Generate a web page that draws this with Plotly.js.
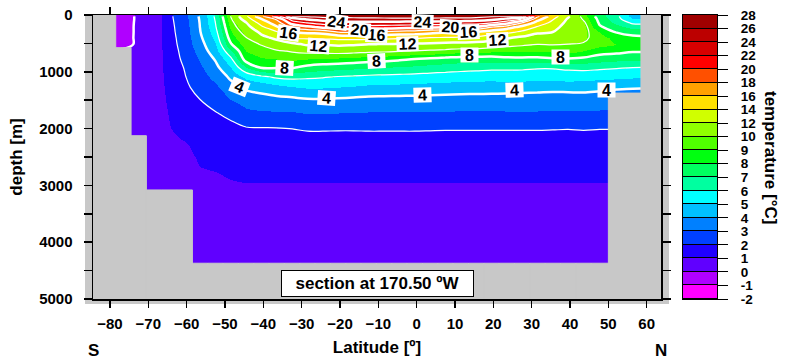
<!DOCTYPE html>
<html><head><meta charset="utf-8">
<script src="https://cdn.plot.ly/plotly-3.0.1.min.js"></script>
<style>html,body{margin:0;padding:0;background:#fff;} #chart{width:788px;height:362px;}</style>
</head><body><div id="chart"></div>
<script>
const N = null;
// cell edges: latitude (deg N) and depth (m)
const latEdges = [-85,-78.5,-74.5,-70.5,-66.5,-62.5,-58.5,-54.5,-50.5,-46.5,-42.5,-38.5,-34.5,-30.5,-26.5,-22.5,-18.5,-14.5,-10.5,-6.5,-2.5,1.5,5.5,9.5,13.5,17.5,21.5,25.5,29.5,33.5,37.5,41.5,45.5,50,54.25,58.5,65];
const depthEdges = [0,40,100,175,250,350,450,575,700,850,1000,1175,1375,1600,1850,2125,2500,3080,3700,4370,5000];

// temperature (°C) per latitude column, top to bottom; null = land
const c00 = [N,N,N,N,N,N,N,N,N,N,N,N,N,N,N,N,N,N,N,N];
const c01 = [-0.6,-0.6,-0.6,-0.6,-0.6,-0.6,-0.6,N,N,N,N,N,N,N,N,N,N,N,N,N];
const c02 = [0.25,0.25,0.28,0.3,0.3,0.32,0.32,0.33,0.33,0.33,0.33,0.33,0.32,0.32,0.3,N,N,N,N,N];
const c03 = [0.3,0.3,0.32,0.35,0.38,0.4,0.42,0.44,0.45,0.46,0.46,0.45,0.44,0.42,0.4,0.35,0.3,N,N,N];
const c04 = [1.8,1.78,1.75,1.72,1.7,1.65,1.6,1.55,1.5,1.45,1.38,1.3,1.2,1.08,0.97,0.8,0.6,N,N,N];
const c05 = [2.7,2.65,2.6,2.55,2.5,2.45,2.4,2.3,2.2,2.05,1.95,1.8,1.6,1.45,1.3,0.9,0.75,N,N,N];
const c06 = [4.15,4.1,4.05,4.02,3.95,3.8,3.6,3.35,3.1,2.85,2.6,2.35,2.0,1.7,1.45,1.2,0.95,0.7,0.55,N];
const c07 = [6.2,6.1,6.0,5.85,5.6,5.3,4.95,4.6,4.1,3.7,3.3,2.8,2.4,1.95,1.6,1.3,0.98,0.75,0.6,N];
const c08 = [10.05,9.8,9.5,9.2,8.9,8.5,7.9,6.8,5.75,4.95,4.2,3.6,3.0,2.25,1.75,1.4,1.05,0.78,0.62,N];
const c09 = [13.7,13.0,11.9,11.3,10.6,9.95,9.5,9.0,8.5,7.0,5.2,4.2,3.4,2.8,1.95,1.55,1.08,0.8,0.63,N];
const c10 = [17.6,16.0,14.8,13.6,12.4,11.5,10.1,9.5,8.9,8.1,5.8,4.3,3.7,2.85,1.98,1.6,1.08,0.8,0.63,N];
const c11 = [21.0,18.4,17.0,15.8,13.8,12.4,11.2,9.8,9.0,8.1,6.2,4.6,3.75,2.9,2.0,1.62,1.08,0.8,0.63,N];
const c12 = [26.1,23.0,20.8,18.5,16.0,14.0,11.6,10.1,9.2,8.1,6.3,4.9,3.8,2.9,2.02,1.65,1.08,0.8,0.63,N];
const c13 = [26.3,24.3,22.07,19.58,16.4,14.36,12.32,10.35,9.0,7.68,6.2,5.08,3.94,3.05,2.07,1.68,1.07,0.8,0.63,N];
const c14 = [26.8,24.92,22.85,20.42,16.67,14.38,12.13,10.44,8.87,7.46,6.1,5.05,3.94,3.05,2.07,1.68,1.07,0.8,0.63,N];
const c15 = [26.9,25.18,23.42,21.07,18.0,14.67,12.43,10.48,8.83,7.35,5.96,4.97,3.9,3.0,2.06,1.68,1.07,0.8,0.63,N];
const c16 = [27.0,25.24,23.58,21.25,18.21,14.74,12.27,10.39,8.71,7.22,5.88,4.88,3.83,2.98,2.06,1.68,1.07,0.8,0.63,N];
const c17 = [27.2,25.26,23.58,21.21,18.0,14.71,12.06,10.25,8.5,7.06,5.79,4.75,3.74,2.94,2.07,1.68,1.07,0.8,0.63,N];
const c18 = [27.4,25.28,23.51,21.03,17.67,14.59,11.96,10.18,8.39,6.98,5.74,4.71,3.73,2.93,2.07,1.68,1.07,0.8,0.63,N];
const c19 = [27.5,25.27,23.45,20.79,17.33,14.35,11.89,10.04,8.2,6.88,5.69,4.68,3.71,2.93,2.07,1.68,1.07,0.8,0.63,N];
const c20 = [27.5,25.25,23.36,20.64,17.11,14.24,11.81,9.9,8.0,6.78,5.64,4.64,3.7,2.93,2.07,1.68,1.07,0.8,0.63,N];
const c21 = [27.5,25.25,23.33,20.31,16.67,14.0,11.65,9.73,7.82,6.63,5.57,4.58,3.68,2.91,2.06,1.68,1.07,0.8,0.63,N];
const c22 = [27.4,25.23,23.25,20.11,16.23,13.88,11.5,9.54,7.66,6.53,5.51,4.53,3.65,2.9,2.05,1.68,1.07,0.8,0.63,N];
const c23 = [27.3,25.2,23.1,19.9,16.0,13.76,11.38,9.27,7.53,6.41,5.45,4.48,3.63,2.89,2.05,1.68,1.07,0.8,0.63,N];
const c24 = [27.0,25.07,22.9,19.67,15.88,13.56,11.29,9.22,7.51,6.35,5.4,4.46,3.62,2.88,2.05,1.68,1.07,0.8,0.63,N];
const c25 = [26.3,24.7,22.1,18.14,15.0,12.9,10.96,9.11,7.5,6.25,5.35,4.42,3.62,2.88,2.05,1.68,1.07,0.8,0.63,N];
const c26 = [26.3,23.6,20.7,16.9,14.5,12.2,10.6,9.0,7.7,6.2,5.5,4.4,3.62,2.9,2.05,1.68,1.07,0.8,0.63,N];
const c27 = [26.1,22.0,18.0,15.4,13.6,11.6,10.3,9.0,7.75,6.2,5.45,4.35,3.6,2.9,2.05,1.68,1.07,0.8,0.63,N];
const c28 = [18.5,16.8,15.2,13.8,12.3,11.2,10.05,9.0,7.7,6.1,5.4,4.3,3.6,2.9,2.05,1.68,1.07,0.8,0.63,N];
const c29 = [15.0,14.2,13.5,12.8,12.0,11.1,10.1,9.1,7.9,6.1,5.4,4.25,3.58,2.88,2.04,1.68,1.07,0.8,0.63,N];
const c30 = [12.3,11.8,11.4,11.0,10.7,10.4,10.0,9.3,7.9,6.2,5.5,4.3,3.55,2.87,2.03,1.68,1.07,0.8,0.63,N];
const c31 = [9.4,9.8,10.3,10.6,10.5,10.3,9.9,8.9,7.8,6.3,5.4,4.3,3.6,2.9,2.05,1.68,1.07,0.8,0.63,N];
const c32 = [7.4,7.6,7.8,8.15,9.0,9.4,9.3,8.4,7.5,6.2,5.3,4.2,3.55,2.85,2.03,1.68,1.07,0.8,0.63,N];
const c33 = [6.3,6.4,6.8,7.4,7.9,8.7,9.0,8.3,7.3,6.1,5.2,4.1,N,N,N,N,N,N,N,N];
const c34 = [4.5,5.0,5.8,6.6,7.5,8.3,8.6,8.1,7.2,6.0,5.1,4.05,N,N,N,N,N,N,N,N];
const c35 = [N,N,N,N,N,N,N,N,N,N,N,N,N,N,N,N,N,N,N,N];

// contour labels as placed in the reference (level, latitude, depth, tilt)
const labelLevel = [4,4,4,4,4, 8,8,8,8, 12,12,12, 16,16,16, 20,20, 24,24];
const labelLat   = [-46.1,-23.5,1.4,25.4,49.6, -34.4,-10.4,13.9,37.4, -25.7,-2.5,21.2, -33.5,-10.4,13.4, -14.8,8.7, -20.9,1.6];
const labelDepth = [1262,1466,1408,1320,1320, 938,810,709,734, 546,505,440, 311,347,299, 269,211, 118,123];
const labelTilt  = [22,4,-2,-2,0, 3,-3,0,0, 5,-2,-3, 8,3,-3, 6,4, 8,2];

// colour levels and band colours
const levels = [-2,-1,0,1,2,3,4,5,6,7,8,9,10,12,14,16,18,20,22,24,26,28];
const bandColors = ['#ff00ff','#b000ff','#6000ff','#2000ff','#0040ff','#0080ff','#00c0ff','#00ffff',
  '#00ffa0','#00ff60','#00ff10','#50ff00','#90ff00','#d0ff00','#ffe000','#ffa000','#ff5000','#ff0000',
  '#d80000','#bc0000','#a00000'];
const landColor = '#c8c8c8';
const FONT = 'Liberation Sans, Arial, sans-serif';

const cols = [c00,c01,c02,c03,c04,c05,c06,c07,c08,c09,c10,c11,c12,c13,c14,c15,c16,c17,c18,c19,
              c20,c21,c22,c23,c24,c25,c26,c27,c28,c29,c30,c31,c32,c33,c34,c35];
const nLat = cols.length, nDep = depthEdges.length - 1;
const mids = a => a.slice(0,-1).map((v,i)=>(v+a[i+1])/2);
const latCenters = mids(latEdges), depthCenters = mids(depthEdges);

// smooth field: land cells take nearest ocean value in the same row (else the cell above)
const filled = cols.map(c => c.slice());
for (let j = 0; j < nDep; j++) for (let i = 0; i < nLat; i++) {
  if (cols[i][j] !== null) continue;
  let best = null, bd = 1e9;
  for (let k = 0; k < nLat; k++) if (cols[k][j] !== null && Math.abs(k-i) < bd) { bd = Math.abs(k-i); best = cols[k][j]; }
  filled[i][j] = best;
}
for (let j = 1; j < nDep; j++) for (let i = 0; i < nLat; i++) if (filled[i][j] === null) filled[i][j] = filled[i][j-1];

function bandIndex(t) {
  if (t <= levels[0]) return 0.001;
  for (let k = 0; k < levels.length-1; k++) if (t < levels[k+1]) return k + (t-levels[k])/(levels[k+1]-levels[k]);
  return levels.length - 1.001;
}
const nb = bandColors.length;
const cscale = [];
bandColors.forEach((c,i)=>{ cscale.push([i/nb, c]); cscale.push([(i+1)/nb, c]); });

const zT = [], zIdx = [];
for (let j = 0; j < nDep; j++) {
  zT.push(cols.map((c,i)=>filled[i][j]));
  zIdx.push(cols.map((c,i)=>bandIndex(filled[i][j])));
}

// land polygons from the null mask
const lx = [], ly = [];
for (let i = 0; i < nLat; i++) {
  let j = 0;
  while (j < nDep) {
    if (cols[i][j] === null) {
      let j2 = j; while (j2 < nDep && cols[i][j2] === null) j2++;
      const x0 = latEdges[i], x1 = latEdges[i+1], y0 = depthEdges[j], y1 = depthEdges[j2];
      lx.push(x0,x1,x1,x0,x0,null); ly.push(y0,y0,y1,y1,y0,null);
      j = j2;
    } else j++;
  }
}

const plotW = 624, mainFrac = 568/624;
const traces = [
  {type:'heatmap', x: latEdges, y: depthEdges, z: zIdx, zmin:0, zmax:nb, colorscale: cscale,
   zsmooth:'best', showscale:false, hoverinfo:'skip'},
  {type:'contour', x: latCenters, y: depthCenters, z: zT, autocontour:false,
   contours:{start:2, end:26, size:4, coloring:'none'}, line:{color:'white', width:1.2},
   showscale:false, hoverinfo:'skip'},
  {type:'contour', x: latCenters, y: depthCenters, z: zT, autocontour:false,
   contours:{start:0, end:24, size:4, coloring:'none'},
   line:{color:'white', width:2.5}, showscale:false, hoverinfo:'skip'},
  {type:'scatter', mode:'lines', x: lx, y: ly, fill:'toself', fillcolor: landColor,
   line:{color: landColor, width:1}, hoverinfo:'skip', showlegend:false},
  {type:'heatmap', xaxis:'x2', yaxis:'y2', x:[0], y: bandColors.map((c,i)=>i),
   z: bandColors.map((c,i)=>[i+0.5]), zmin:0, zmax:nb, colorscale: cscale, ygap:1,
   showscale:false, hoverinfo:'skip'}
];

const contourLabels = labelLevel.map((lv,i)=>({
  text: String(lv), xref:'x', yref:'y', x: labelLat[i], y: labelDepth[i], showarrow:false,
  xanchor:'center', yanchor:'middle', textangle: labelTilt[i], bgcolor:'white', borderpad:1,
  width: String(lv).length > 1 ? 19 : 15, height: 12,
  font:{size:16, weight:'bold', color:'black'}
}));

const layout = {
  width:788, height:362,
  margin:{l:93, r:71, t:15, b:63, pad:0},
  paper_bgcolor:'white', plot_bgcolor: landColor, showlegend:false,
  font:{family:FONT, size:15, color:'black'},
  xaxis:{domain:[0, mainFrac], range:[-84.43, 63.73], tickvals:[-80,-70,-60,-50,-40,-30,-20,-10,0,10,20,30,40,50,60],
    ticks:'outside', ticklen:7, tickwidth:1.5, tickcolor:'black', showline:true, linecolor:'black', linewidth:1.5,
    mirror:'ticks', showgrid:false, zeroline:false, tickfont:{size:15, weight:'bold'}, ticklabelstandoff:3,
    title:{text:'Latitude [º]', font:{size:17, weight:'bold'}, standoff:10}},
  yaxis:{domain:[0,1], range:[5000,0], tickvals:[0,500,1000,1500,2000,2500,3000,3500,4000,4500,5000],
    ticktext:['0','','1000','','2000','','3000','','4000','','5000'],
    ticks:'outside', ticklen:8, tickwidth:1.5, tickcolor:'black', showline:true, linecolor:'black', linewidth:1.5,
    mirror:'ticks', showgrid:false, zeroline:false, tickfont:{size:15, weight:'bold'}, ticklabelstandoff:8,
    title:{text:'depth [m]', font:{size:17, weight:'bold'}, standoff:12}},
  xaxis2:{domain:[(683-93)/plotW, 1], anchor:'y2', range:[-0.5,0.5], showticklabels:false, ticks:'',
    showgrid:false, zeroline:false, showline:true, mirror:true, linecolor:'black', linewidth:1},
  yaxis2:{domain:[0,1], anchor:'x2', side:'right', range:[-0.5, nb-0.5],
    tickvals: levels.map((v,i)=>i-0.5), ticktext: levels.map(String),
    ticks:'outside', ticklen:10, tickwidth:1, tickcolor:'black', showline:true, mirror:true,
    linecolor:'black', linewidth:1, showgrid:false, zeroline:false,
    tickfont:{size:13.5, weight:'bold'}, ticklabelstandoff:10},
  shapes:[
    {type:'rect', xref:'paper', yref:'paper', x0:-8/plotW, x1:mainFrac+8/plotW, y0:-5/284, y1:1,
     fillcolor:landColor, line:{width:0}, layer:'below'},
    {type:'rect', xref:'x2', yref:'y2', x0:-0.5, x1:0.5, y0:-0.5, y1:nb-0.5,
     fillcolor:'black', line:{width:0}, layer:'below'}
  ],
  annotations: contourLabels.concat([
    {text:'S', xref:'paper', yref:'paper', x:0, y:-0.183, showarrow:false, xanchor:'center', yanchor:'middle',
     font:{size:17, weight:'bold'}},
    {text:'N', xref:'paper', yref:'paper', x:mainFrac, y:-0.183, showarrow:false, xanchor:'center', yanchor:'middle',
     font:{size:17, weight:'bold'}},
    {text:'temperature [°C]', xref:'paper', yref:'paper', x:(771-93)/plotW, y:0.5, textangle:90,
     showarrow:false, xanchor:'center', yanchor:'middle', font:{size:17, weight:'bold'}},
    {text:'section at 170.50 ºW', xref:'paper', yref:'paper', x:mainFrac/2, y:(299-283.5)/284,
     showarrow:false, xanchor:'center', yanchor:'middle', bgcolor:'white', bordercolor:'black',
     borderwidth:1, borderpad:3, width:185, height:19, font:{size:17, weight:'bold'}}
  ])
};

Plotly.newPlot('chart', traces, layout, {staticPlot:true, displayModeBar:false});
</script>
</body></html>
